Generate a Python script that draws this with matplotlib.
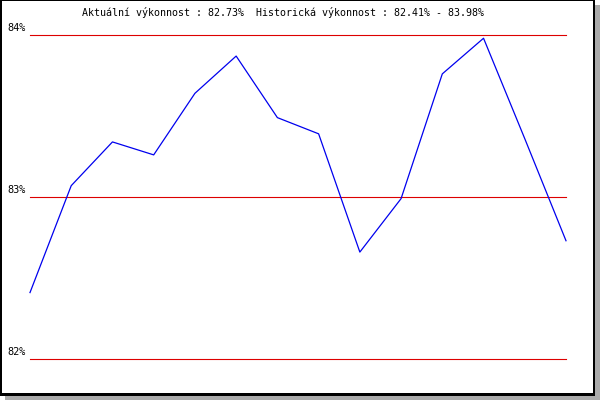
import matplotlib
matplotlib.use("Agg")
import matplotlib.pyplot as plt
from matplotlib.patches import Rectangle

# performance values (%)
values = [82.41, 83.07, 83.34, 83.26, 83.64, 83.87, 83.49, 83.39,
          82.66, 82.99, 83.76, 83.98, 83.36, 82.73]
y_ticks = [82, 83, 84]
y_labels = ["82%", "83%", "84%"]
title = "Aktuální výkonnost : 82.73%  Historická výkonnost : 82.41% - 83.98%"

W, H = 600, 400
fig = plt.figure(figsize=(W / 100, H / 100), dpi=100)
fig.patch.set_facecolor("white")

# frame with drop shadow (pixel coords, converted to figure fraction)
def px_rect(x0, y0, x1, y1, color):
    fig.patches.append(Rectangle((x0 / W, 1 - y1 / H), (x1 - x0) / W, (y1 - y0) / H,
                                 transform=fig.transFigure, facecolor=color,
                                 edgecolor="none", zorder=-10))

px_rect(5, 5, 600, 400, "#aaaaaa")
px_rect(0, 0, 595, 396, "black")
px_rect(2, 1, 593, 393, "white")

ax = fig.add_axes([30 / W, 1 - 359 / H, (566 - 30) / W, (359 - 35) / H])
ax.set_facecolor("none")
for s in ax.spines.values():
    s.set_visible(False)
ax.set_xlim(0, len(values) - 1)
ax.set_ylim(82, 84)
ax.set_xticks([])
ax.set_yticks([])

for t, lab in zip(y_ticks, y_labels):
    ax.axhline(t, color="#dd0000", lw=0.8, zorder=1, clip_on=False)
    ax.annotate(lab, xy=(0, t), xycoords=("axes fraction", "data"),
                xytext=(-4, 2), textcoords="offset pixels",
                ha="right", va="bottom", fontsize=7.4,
                family="DejaVu Sans Mono", color="black")

ax.plot(range(len(values)), values, color="#0000ee", lw=0.9, zorder=2, clip_on=False)

fig.text(283 / W, 1 - 13 / H, title, ha="center", va="center",
         fontsize=7.2, family="DejaVu Sans Mono", color="black")

fig.savefig("out.png", dpi=100)
